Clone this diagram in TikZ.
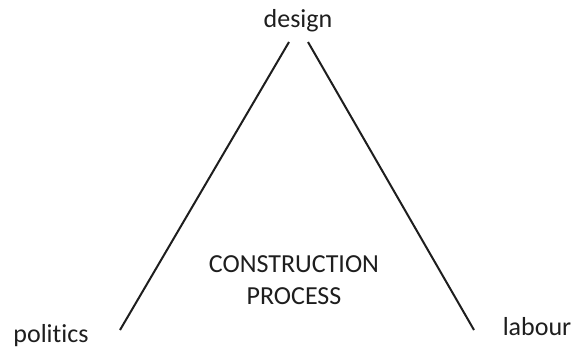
\documentclass[tikz,border=0pt]{standalone}
\usepackage{fontspec}
\setmainfont[Ligatures={NoCommon,NoRare,NoDiscretionary}]{Carlito}
\definecolor{ink}{HTML}{1E1E1E}
\tikzset{
  lbl/.style={font=\fontsize{26}{32}\selectfont, text=ink, inner sep=0pt, anchor=base},
  edge/.style={draw=ink, line width=2pt}
}
\begin{document}
\begin{tikzpicture}[x=1pt,y=-1pt]
\useasboundingbox[fill=white] (0,0) rectangle (577,348);
\node[lbl] (design) at (298,27) {design};
\node[lbl] (politics) at (51,342) {politics};
\node[lbl] (labour) at (537,335) {labour};
\node[lbl] (cons) at (294,272) {CONSTRUCTION};
\node[lbl] (proc) at (294,304) {PROCESS};
\coordinate (lt) at (289,42);
\coordinate (lb) at (120,330);
\coordinate (rt) at (308,42);
\coordinate (rb) at (474,330);
\draw[edge] (lt) -- (lb);
\draw[edge] (rt) -- (rb);
\end{tikzpicture}
\end{document}
